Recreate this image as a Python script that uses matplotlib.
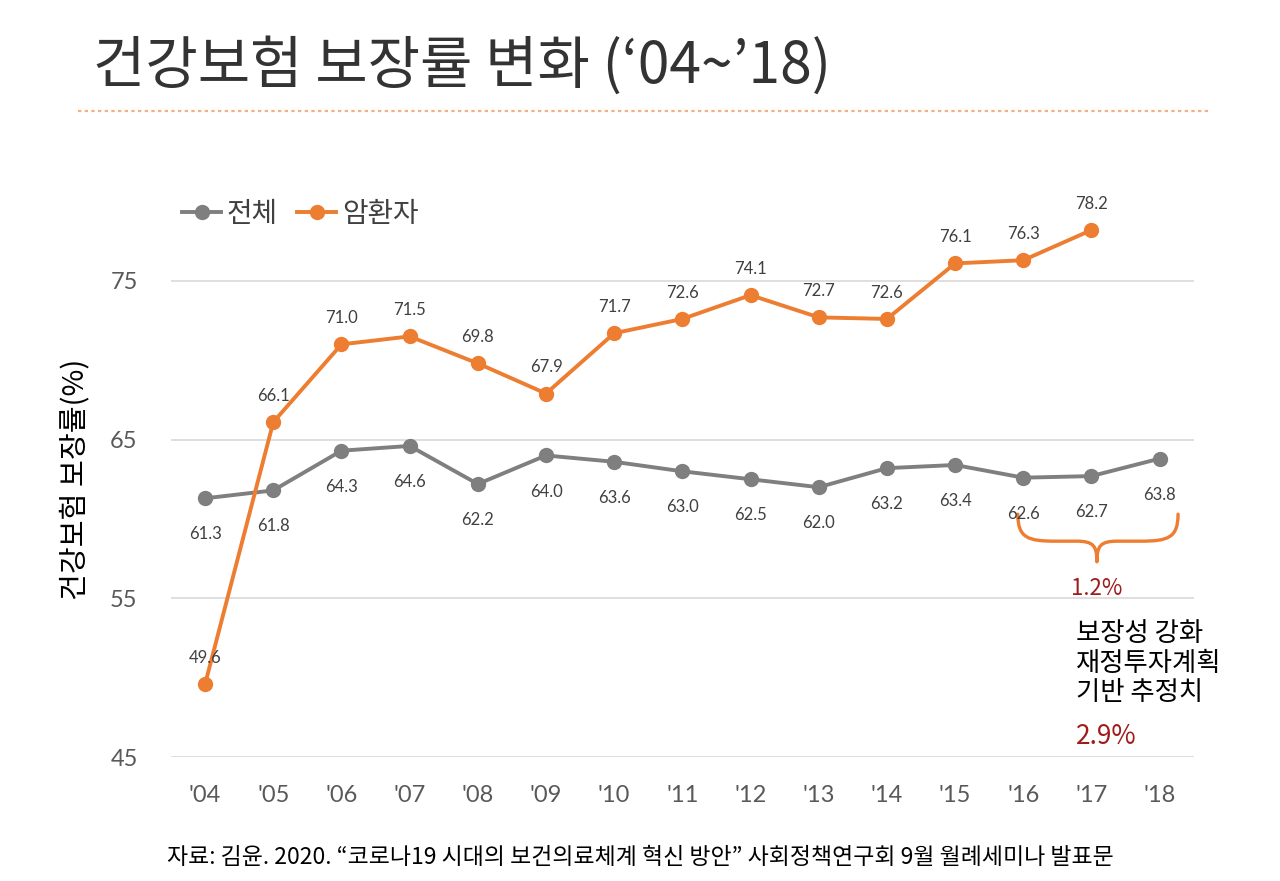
import matplotlib
matplotlib.use('Agg')
import matplotlib.pyplot as plt
from matplotlib.path import Path
from matplotlib.patches import PathPatch
from matplotlib.lines import Line2D

plt.rcParams['font.family'] = ['Noto Sans CJK KR', 'DejaVu Sans']

years = ["'04", "'05", "'06", "'07", "'08", "'09", "'10", "'11", "'12",
         "'13", "'14", "'15", "'16", "'17", "'18"]
total = [61.3, 61.8, 64.3, 64.6, 62.2, 64.0, 63.6, 63.0, 62.5, 62.0, 63.2,
         63.4, 62.6, 62.7, 63.8]
cancer = [49.6, 66.1, 71.0, 71.5, 69.8, 67.9, 71.7, 72.6, 74.1, 72.7, 72.6,
          76.1, 76.3, 78.2]
yticks = [45, 55, 65, 75]

GRAY = '#7f7f7f'
ORANGE = '#ed7d31'
TXT = '#404040'
RED = '#a01c1c'
NUM_FONT = ['Lato', 'DejaVu Sans']

fig = plt.figure(figsize=(12.8, 8.81), dpi=100)
ax = fig.add_axes([0.1336, 0.1407, 0.799, 0.6306])

x_all = list(range(len(years)))
x_c = list(range(len(cancer)))

ax.plot(x_all, total, color=GRAY, lw=2.8, marker='o', ms=10, zorder=3)
ax.plot(x_c, cancer, color=ORANGE, lw=2.8, marker='o', ms=10, zorder=3)

for x, v in zip(x_all, total):
    ax.annotate(f'{v:.1f}', (x, v), xytext=(0, -26), textcoords='offset points',
                ha='center', va='center', fontsize=12, color=TXT, family=NUM_FONT)
for x, v in zip(x_c, cancer):
    ax.annotate(f'{v:.1f}', (x, v), xytext=(0, 19), textcoords='offset points',
                ha='center', va='center', fontsize=12, color=TXT, family=NUM_FONT)

ax.set_xlim(-0.5, len(years) - 0.5)
ax.set_ylim(45, 80)
ax.set_yticks(yticks)
ax.set_yticklabels([str(t) for t in yticks], family=NUM_FONT, fontsize=17, color='#595959')
ax.set_xticks(x_all)
ax.set_xticklabels(years, family=NUM_FONT, fontsize=17, color='#595959')
ax.tick_params(length=0, pad=20)
ax.tick_params(axis='y', pad=24)
ax.grid(axis='y', color='#d9d9d9', lw=1.2)
ax.set_axisbelow(True)
for s in ax.spines.values():
    s.set_visible(False)

ax.set_ylabel('건강보험 보장률(%)', fontsize=21, color='black', labelpad=14)

handles = [Line2D([], [], color=GRAY, lw=2.8, marker='o', ms=10),
           Line2D([], [], color=ORANGE, lw=2.8, marker='o', ms=10)]
fig.legend(handles, ['전체', '암환자'], loc='center left', bbox_to_anchor=(0.123, 0.757),
           ncol=2, frameon=False, fontsize=20, handlelength=1.4, handletextpad=0.2,
           columnspacing=0.7, labelcolor='#404040')

# brace under '16~'18
x0, x1, xm = 11.92, 14.27, 13.08
ytop, ymid, ytip = 60.3, 58.6, 57.3
verts = [(x0, ytop), (x0, ymid + 0.2), (x0 + 0.15, ymid), (x0 + 0.55, ymid),
         (xm - 0.3, ymid),
         (xm - 0.05, ymid), (xm, ymid - 0.3), (xm, ytip),
         (xm, ymid - 0.3), (xm + 0.05, ymid), (xm + 0.3, ymid),
         (x1 - 0.55, ymid),
         (x1 - 0.15, ymid), (x1, ymid + 0.2), (x1, ytop)]
codes = [Path.MOVETO, Path.CURVE4, Path.CURVE4, Path.CURVE4,
         Path.LINETO,
         Path.CURVE4, Path.CURVE4, Path.CURVE4,
         Path.CURVE4, Path.CURVE4, Path.CURVE4,
         Path.LINETO,
         Path.CURVE4, Path.CURVE4, Path.CURVE4]
ax.add_patch(PathPatch(Path(verts, codes), fill=False, edgecolor=ORANGE, lw=2.4,
                       capstyle='round', joinstyle='round', clip_on=False))

ax.text(xm, 55.6, '1.2%', ha='center', va='center', fontsize=16, color=RED)
fig.text(0.8406, 0.296, '보장성 강화\n재정투자계획\n기반 추정치', ha='left', va='top',
         fontsize=19, color='black', linespacing=1.12)
fig.text(0.8406, 0.1635, '2.9%', ha='left', va='center', fontsize=19, color=RED)

fig.text(0.073, 0.925, "건강보험 보장률 변화 (\u201804~\u201918)", ha='left', va='center',
         fontsize=41, color='#333333')
fig.add_artist(Line2D([0.061, 0.944], [0.874, 0.874], color='#f4b183', lw=1.6,
                      ls=(0, (1.5, 1.5))))

fig.text(0.5, 0.027, '자료: 김윤. 2020. \u201c코로나19 시대의 보건의료체계 혁신 방안\u201d 사회정책연구회 9월 월례세미나 발표문',
         ha='center', va='center', fontsize=16.5, color='black')

fig.savefig('out.png', dpi=100)
